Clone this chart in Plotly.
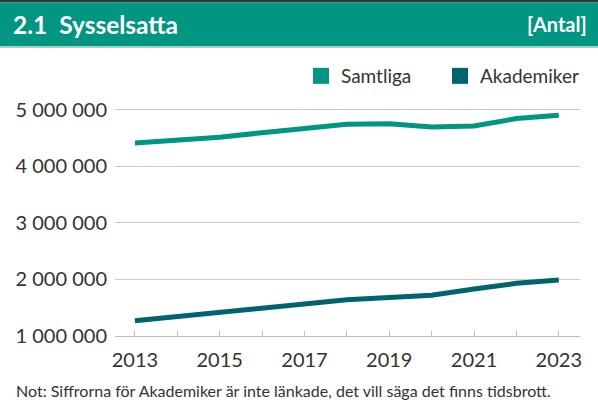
import plotly.graph_objects as go

years = list(range(2013, 2024))
samtliga = [4410000, 4450000, 4510000, 4590000, 4675000, 4740000, 4750000, 4690000, 4710000, 4840000, 4900000]
akademiker = [1270000, 1340000, 1420000, 1500000, 1560000, 1640000, 1680000, 1720000, 1830000, 1930000, 1990000]
series_names = ["Samtliga", "Akademiker"]
colors = ["#009682", "#00646e"]
ytick_vals = [1000000, 2000000, 3000000, 4000000, 5000000]
ytick_text = ["1 000 000", "2 000 000", "3 000 000", "4 000 000", "5 000 000"]
xtick_text = [str(y) if (y - 2013) % 2 == 0 else "" for y in years]
title_text = "2.1&nbsp;&nbsp;Sysselsatta"
unit_text = "[Antal]"
note_text = "Not: Siffrorna för Akademiker är inte länkade, det vill säga det finns tidsbrott."

W, H = 598, 411
L, R, T, B = 115, 18, 95, 75
pw, ph = W - L - R, H - T - B

def px(x):
    return (x - L) / pw

def py(y):
    return (H - B - y) / ph

FONT = "Lato"
fig = go.Figure()
for name, vals, c in zip(series_names, [samtliga, akademiker], colors):
    fig.add_trace(go.Scatter(x=years, y=vals, mode="lines", name=name,
                             line=dict(color=c, width=5), showlegend=False,
                             hoverinfo="skip"))
for name, c in zip(series_names, colors):
    fig.add_trace(go.Scatter(x=[None], y=[None], mode="markers", name=name,
                             marker=dict(symbol="square", size=17, color=c),
                             showlegend=True))

fig.update_layout(
    width=W, height=H,
    margin=dict(l=L, r=R, t=T, b=B, autoexpand=False),
    paper_bgcolor="white", plot_bgcolor="white",
    font=dict(family=FONT, color="#333333"),
    showlegend=True,
    legend=dict(orientation="h", x=px(579), xanchor="right", y=py(76), yanchor="middle",
                font=dict(size=19, color="#333333"), itemsizing="trace",
                traceorder="normal", bgcolor="rgba(0,0,0,0)", tracegroupgap=0,
                itemwidth=30, entrywidth=94),
    xaxis=dict(range=[2012.53, 2023.5], tickvals=years, ticktext=xtick_text,
               ticks="inside", ticklen=5, tickcolor="#bbbbbb", showgrid=False,
               showline=True, linecolor="#bbbbbb", linewidth=1,
               ticklabelstandoff=6,
               tickfont=dict(size=20, color="#333333"), zeroline=False),
    yaxis=dict(range=[1000000, 5256000], tickvals=ytick_vals, ticktext=ytick_text,
               showgrid=True, gridcolor="#cccccc", gridwidth=1, zeroline=False,
               ticks="", ticklabelstandoff=7,
               tickfont=dict(size=20, color="#333333")),
    shapes=[
        dict(type="rect", xref="paper", yref="paper", x0=px(0), x1=px(W), y0=py(0), y1=py(2.5),
             fillcolor="#2f3a38", line=dict(width=0), layer="above"),
        dict(type="rect", xref="paper", yref="paper", x0=px(0), x1=px(W), y0=py(2.5), y1=py(46),
             fillcolor="#009682", line=dict(width=0), layer="above"),
        dict(type="rect", xref="paper", yref="paper", x0=px(0), x1=px(W), y0=py(46), y1=py(48),
             fillcolor="#9fd6cc", line=dict(width=0), layer="above"),
    ],
    annotations=[
        dict(text="<b>" + title_text + "</b>", xref="paper", yref="paper", x=px(11), y=py(24.5),
             xanchor="left", yanchor="middle", showarrow=False,
             font=dict(size=24.5, color="white", family=FONT)),
        dict(text="<b>" + unit_text + "</b>", xref="paper", yref="paper", x=px(589), y=py(24.5),
             xanchor="right", yanchor="middle", showarrow=False,
             font=dict(size=20, color="white", family=FONT)),
        dict(text=note_text, xref="paper", yref="paper", x=px(14), y=py(390),
             xanchor="left", yanchor="middle", showarrow=False,
             font=dict(size=16, color="#333333", family=FONT)),
    ],
)

fig.write_html("out.html", config={"displayModeBar": False},
               post_script="document.body.style.margin='0px';document.body.style.overflow='hidden';")
